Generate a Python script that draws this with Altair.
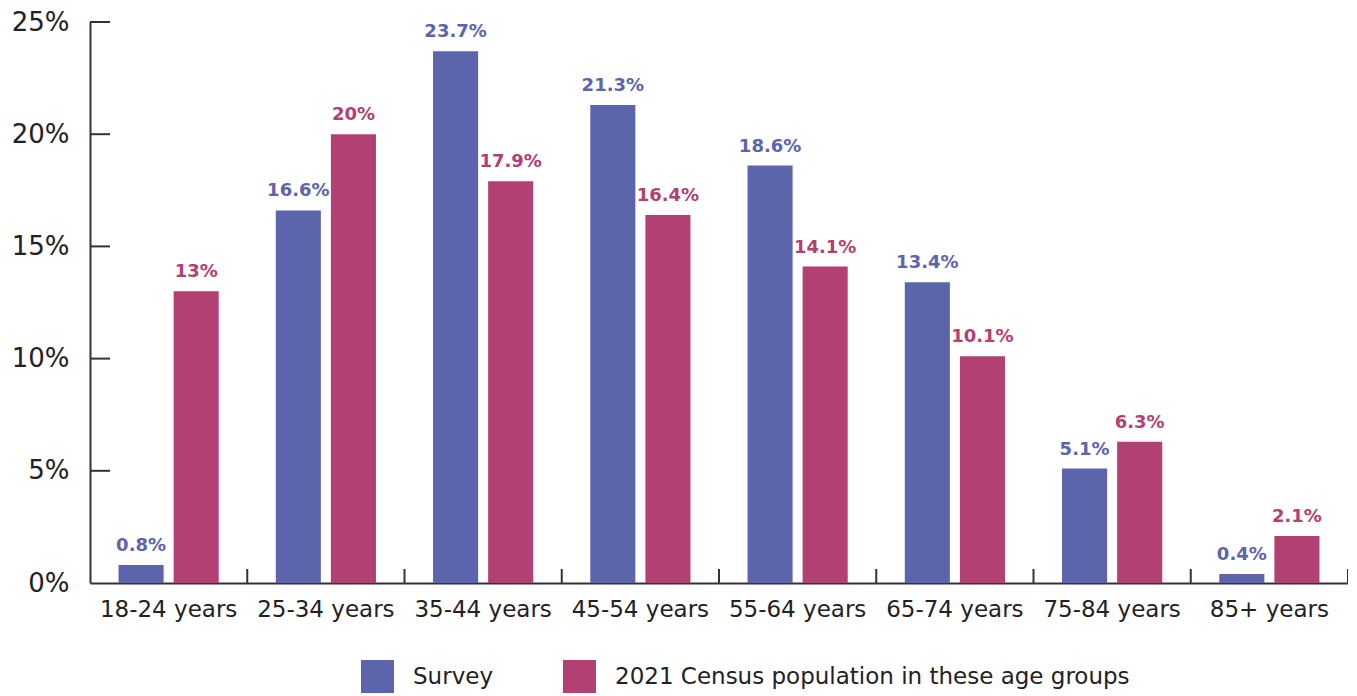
import altair as alt
import pandas as pd

categories = ["18-24 years", "25-34 years", "35-44 years", "45-54 years",
              "55-64 years", "65-74 years", "75-84 years", "85+ years"]
series_names = ["Survey", "2021 Census population in these age groups"]
survey = [0.8, 16.6, 23.7, 21.3, 18.6, 13.4, 5.1, 0.4]
census = [13, 20, 17.9, 16.4, 14.1, 10.1, 6.3, 2.1]
y_ticks = [0, 5, 10, 15, 20, 25]
colors = ["#5C64AC", "#B24073"]

rows = []
for c, s, p in zip(categories, survey, census):
    rows.append({"age": c, "series": series_names[0], "value": s,
                 "label": f"{s:g}%"})
    rows.append({"age": c, "series": series_names[1], "value": p,
                 "label": f"{p:g}%"})
df = pd.DataFrame(rows)
tick_df = pd.DataFrame({"age": categories})
ytick_df = pd.DataFrame({"v": y_ticks[1:]})

W, H = 1258, 561
FONT = "DejaVu Sans"

x_enc = alt.X("age:N", sort=categories,
              scale=alt.Scale(paddingInner=0, paddingOuter=0),
              axis=alt.Axis(title=None, ticks=False, labelAngle=0,
                            labelFont=FONT, labelFontSize=23,
                            labelColor="#222", labelPadding=15,
                            domainColor="#333", domainWidth=2))
xo_enc = alt.XOffset("series:N", sort=series_names,
                     scale=alt.Scale(paddingInner=0.1818, paddingOuter=0.518))
y_enc = alt.Y("value:Q", scale=alt.Scale(domain=[0, 25], nice=False),
              axis=alt.Axis(title=None, values=y_ticks, ticks=False,
                            grid=False, labelExpr="datum.value + '%'",
                            labelFont=FONT, labelFontSize=26,
                            labelColor="#222", labelPadding=21,
                            domainColor="#333", domainWidth=2))
color_scale = alt.Scale(domain=series_names, range=colors)

bars = alt.Chart(df).mark_bar().encode(
    x=x_enc, xOffset=xo_enc, y=y_enc,
    color=alt.Color("series:N", scale=color_scale,
                    legend=alt.Legend(title=None, orient="none",
                                      direction="horizontal",
                                      legendX=271, legendY=638,
                                      symbolType="square", symbolSize=1089,
                                      symbolStrokeWidth=0, symbolOpacity=1,
                                      labelFont=FONT, labelFontSize=23,
                                      labelColor="#222", labelOffset=19,
                                      columnPadding=69, padding=0,
                                      labelLimit=700)),
)

texts = alt.Chart(df).mark_text(
    baseline="alphabetic", dy=-14, font=FONT, fontSize=18, fontWeight="bold"
).encode(
    x=alt.X("age:N", sort=categories), xOffset=alt.XOffset("series:N", sort=series_names),
    y=alt.Y("value:Q"),
    text="label:N",
    color=alt.Color("series:N", scale=color_scale, legend=None),
)

xticks = alt.Chart(tick_df).mark_rule(color="#333", strokeWidth=2).encode(
    x=alt.X("age:N", sort=categories, bandPosition=1),
    y=alt.value(H - 14), y2=alt.value(H),
)

yticks = alt.Chart(ytick_df).mark_rule(color="#333", strokeWidth=2).encode(
    y=alt.Y("v:Q"), x=alt.value(0), x2=alt.value(20),
)

chart = alt.layer(bars, texts, xticks, yticks).properties(
    width=W, height=H,
    autosize=alt.AutoSizeParams(type="none"),
    padding={"left": 82, "top": 14, "right": 0, "bottom": 112},
).configure_view(stroke=None).configure_axis(grid=False)

chart.save("out.html", embed_options={"renderer": "svg", "actions": False})
